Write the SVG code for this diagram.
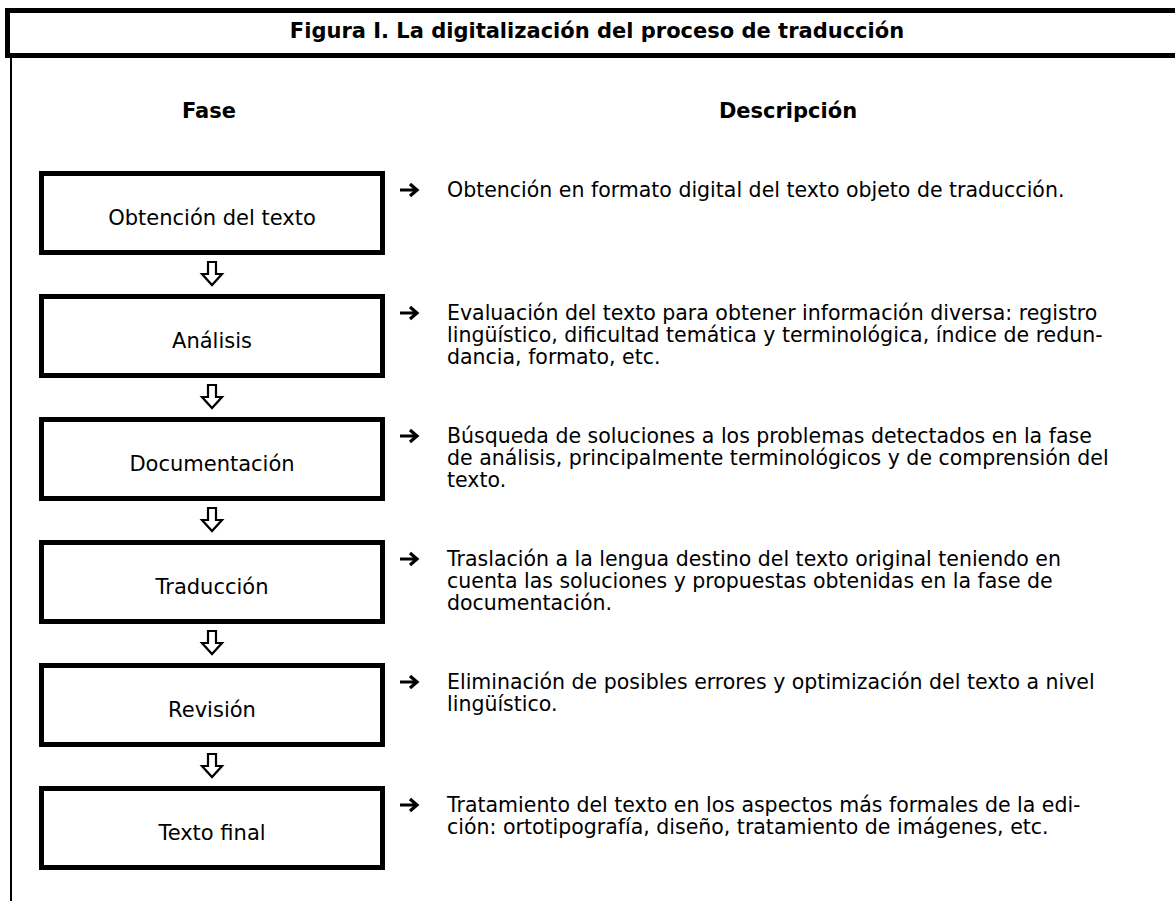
<svg xmlns="http://www.w3.org/2000/svg" width="1175" height="901" viewBox="0 0 1175 901">
<style>
.t{font-family:"DejaVu Sans",Verdana,sans-serif;fill:#000}
.title{font-size:21px;font-weight:bold;text-anchor:middle}
.hdr{font-size:21px;font-weight:bold;text-anchor:middle}
.box{fill:#fff;stroke:#000;stroke-width:5}
.lbl{font-size:21px;text-anchor:middle}
.desc{font-size:20.5px}
.down{fill:#fff;stroke:#000;stroke-width:2.2;stroke-linejoin:miter}
.right{fill:none;stroke:#000;stroke-width:3.2;stroke-linecap:butt}
</style>
<rect width="1175" height="901" fill="#fff"/>
<g id="frame">
<rect x="7.5" y="10.5" width="1180" height="45" fill="#fff" stroke="#000" stroke-width="5"/>
<line x1="11" y1="58" x2="11" y2="901" stroke="#000" stroke-width="2"/>
<text class="t title" x="597" y="38">Figura I. La digitalización del proceso de traducción</text>
<text class="t hdr" x="209" y="118">Fase</text>
<text class="t hdr" x="788" y="118">Descripción</text>
</g>
<g id="connectors">
<path class="down" d="M208,262 h8 v12 h6 l-10,11 l-10,-11 h6 z"/>
<path class="down" d="M208,385 h8 v12 h6 l-10,11 l-10,-11 h6 z"/>
<path class="down" d="M208,508 h8 v12 h6 l-10,11 l-10,-11 h6 z"/>
<path class="down" d="M208,631 h8 v12 h6 l-10,11 l-10,-11 h6 z"/>
<path class="down" d="M208,754 h8 v12 h6 l-10,11 l-10,-11 h6 z"/>
<path class="right" d="M400,190 h16 M410,184 l7,6 l-7,6"/>
<path class="right" d="M400,313 h16 M410,307 l7,6 l-7,6"/>
<path class="right" d="M400,436 h16 M410,430 l7,6 l-7,6"/>
<path class="right" d="M400,559 h16 M410,553 l7,6 l-7,6"/>
<path class="right" d="M400,682 h16 M410,676 l7,6 l-7,6"/>
<path class="right" d="M400,805 h16 M410,799 l7,6 l-7,6"/>
</g>
<g id="n1">
<rect class="box" x="41.5" y="173.5" width="341" height="79"/>
<text class="t lbl" x="212" y="225">Obtención del texto</text>
<text class="t desc" x="447" y="197">Obtención en formato digital del texto objeto de traducción.</text>
</g>
<g id="n2">
<rect class="box" x="41.5" y="296.5" width="341" height="79"/>
<text class="t lbl" x="212" y="348">Análisis</text>
<text class="t desc" x="447" y="320">Evaluación del texto para obtener información diversa: registro</text>
<text class="t desc" x="447" y="342">lingüístico, dificultad temática y terminológica, índice de redun-</text>
<text class="t desc" x="447" y="364">dancia, formato, etc.</text>
</g>
<g id="n3">
<rect class="box" x="41.5" y="419.5" width="341" height="79"/>
<text class="t lbl" x="212" y="471">Documentación</text>
<text class="t desc" x="447" y="443">Búsqueda de soluciones a los problemas detectados en la fase</text>
<text class="t desc" x="447" y="465">de análisis, principalmente terminológicos y de comprensión del</text>
<text class="t desc" x="447" y="487">texto.</text>
</g>
<g id="n4">
<rect class="box" x="41.5" y="542.5" width="341" height="79"/>
<text class="t lbl" x="212" y="594">Traducción</text>
<text class="t desc" x="447" y="566">Traslación a la lengua destino del texto original teniendo en</text>
<text class="t desc" x="447" y="588">cuenta las soluciones y propuestas obtenidas en la fase de</text>
<text class="t desc" x="447" y="610">documentación.</text>
</g>
<g id="n5">
<rect class="box" x="41.5" y="665.5" width="341" height="79"/>
<text class="t lbl" x="212" y="717">Revisión</text>
<text class="t desc" x="447" y="689">Eliminación de posibles errores y optimización del texto a nivel</text>
<text class="t desc" x="447" y="711">lingüístico.</text>
</g>
<g id="n6">
<rect class="box" x="41.5" y="788.5" width="341" height="79"/>
<text class="t lbl" x="212" y="840">Texto final</text>
<text class="t desc" x="447" y="812">Tratamiento del texto en los aspectos más formales de la edi-</text>
<text class="t desc" x="447" y="834">ción: ortotipografía, diseño, tratamiento de imágenes, etc.</text>
</g>
</svg>
